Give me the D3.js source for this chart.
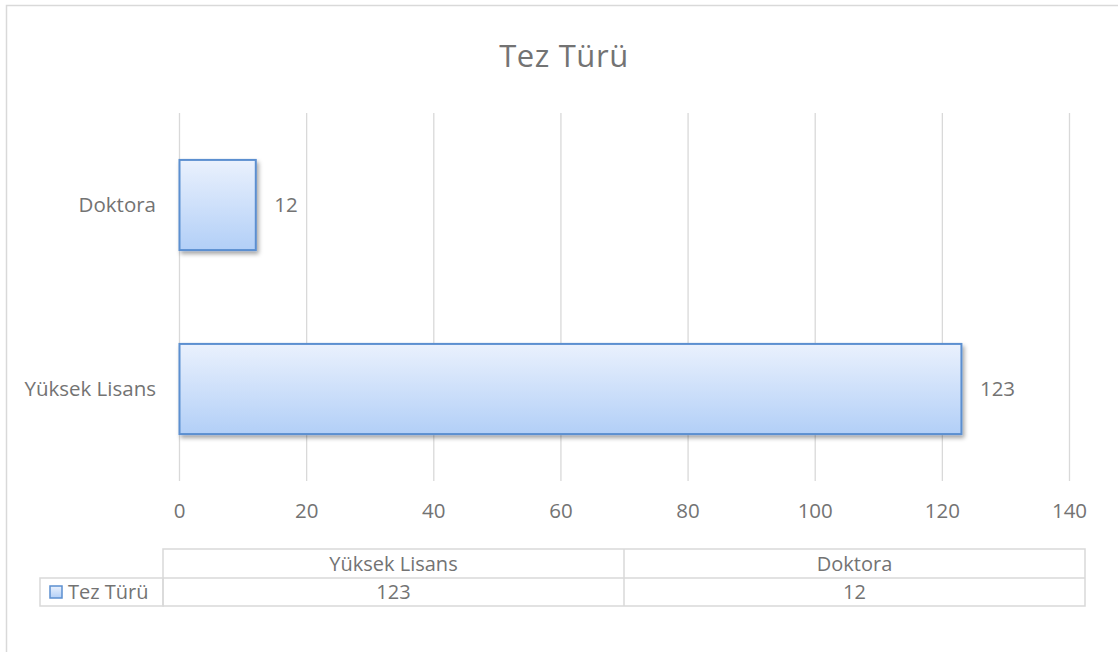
<!DOCTYPE html>
<html><head><meta charset="utf-8">
<script src="https://cdn.jsdelivr.net/npm/d3@7"></script>
<style>body{margin:0;background:#fff}svg{display:block;font-family:"Open Sans",sans-serif}</style>
</head><body>
<svg id="c" width="1118" height="652"></svg>
<script>
const title = "Tez Türü";
const seriesName = "Tez Türü";
const categories = ["Yüksek Lisans", "Doktora"];
const values = [123, 12];
const xTicks = [0, 20, 40, 60, 80, 100, 120, 140];

const svg = d3.select("#c");
const grey = "#737373";
const fs = 20.5;
const defs = svg.append("defs");
const grad = defs.append("linearGradient").attr("id","g").attr("x1",0).attr("y1",0).attr("x2",0).attr("y2",1);
grad.append("stop").attr("offset","0%").attr("stop-color","#eaf1fd");
grad.append("stop").attr("offset","100%").attr("stop-color","#b2cff7");
const f = defs.append("filter").attr("id","sh").attr("x","-10%").attr("y","-10%").attr("width","130%").attr("height","140%");
f.append("feDropShadow").attr("dx",2).attr("dy",3).attr("stdDeviation",2).attr("flood-color","#000").attr("flood-opacity",0.35);
const lg = defs.append("linearGradient").attr("id","lg").attr("x1",0).attr("y1",0).attr("x2",0).attr("y2",1);
lg.append("stop").attr("offset","0%").attr("stop-color","#eaf1fd");
lg.append("stop").attr("offset","100%").attr("stop-color","#b2cff7");

// chart border
svg.append("rect").attr("x",6.5).attr("y",5.5).attr("width",1130).attr("height",660)
  .attr("fill","none").attr("stroke","#d9d9d9").attr("stroke-width",1.5);

svg.append("text").attr("x",564).attr("y",67).attr("text-anchor","middle")
  .attr("font-size",31).attr("letter-spacing",0.6).attr("fill",grey).text(title);

const x = d3.scaleLinear().domain([0,140]).range([179,1069]);
const y = d3.scaleBand().domain(["Doktora","Yüksek Lisans"]).range([113,481]).paddingInner(0.51).paddingOuter(0.255);

// gridlines
svg.append("g").selectAll("line").data(xTicks).join("line")
  .attr("x1",d=>x(d)+0.5).attr("x2",d=>x(d)+0.5).attr("y1",113).attr("y2",481)
  .attr("stroke","#d9d9d9").attr("stroke-width",1.3);

// tick labels
const ax = svg.append("g").attr("transform","translate(0,481)")
  .call(d3.axisBottom(x).tickValues(xTicks).tickSize(0).tickPadding(0));
ax.select(".domain").remove();
ax.selectAll("text").attr("font-size",fs).attr("fill",grey).attr("font-family","'Open Sans',sans-serif").attr("y",30).attr("dy","0.35em");

// category labels
const ay = svg.append("g").attr("transform","translate(179,0)")
  .call(d3.axisLeft(y).tickSize(0).tickPadding(23));
ay.select(".domain").remove();
ay.selectAll("text").attr("font-size",fs).attr("fill",grey).attr("font-family","'Open Sans',sans-serif");

const data = categories.map((c,i)=>({c,v:values[i]}));
svg.append("g").selectAll("rect").data(data).join("rect")
  .attr("x",x(0)+0.5).attr("y",d=>y(d.c)).attr("width",d=>x(d.v)-x(0)).attr("height",y.bandwidth())
  .attr("fill","url(#g)").attr("stroke","#5b8fd0").attr("stroke-width",2).attr("filter","url(#sh)");

svg.append("g").selectAll("text").data(data).join("text")
  .attr("x",d=>x(d.v)+19).attr("y",d=>y(d.c)+y.bandwidth()/2).attr("dy","0.35em")
  .attr("font-size",fs).attr("fill",grey).text(d=>d.v);

// data table
const tg = svg.append("g");
const colX = [163, 624, 1085];
const r0 = 549, r1 = 578, r2 = 606;
const ls = "#d9d9d9";
tg.append("rect").attr("x",colX[0]).attr("y",r0).attr("width",colX[2]-colX[0]).attr("height",r2-r0).attr("fill","none").attr("stroke",ls).attr("stroke-width",1.5);
tg.append("rect").attr("x",40).attr("y",r1).attr("width",colX[0]-40).attr("height",r2-r1).attr("fill","none").attr("stroke",ls).attr("stroke-width",1.5);
tg.append("line").attr("x1",colX[0]).attr("x2",colX[2]).attr("y1",r1).attr("y2",r1).attr("stroke",ls).attr("stroke-width",1.5);
tg.append("line").attr("x1",colX[1]).attr("x2",colX[1]).attr("y1",r0).attr("y2",r2).attr("stroke",ls).attr("stroke-width",1.5);
categories.forEach((c,i)=>{
  const cx = (colX[i]+colX[i+1])/2;
  tg.append("text").attr("x",cx).attr("y",(r0+r1)/2).attr("dy","0.35em").attr("text-anchor","middle").attr("font-size",fs-0.5).attr("fill",grey).text(c);
  tg.append("text").attr("x",cx).attr("y",(r1+r2)/2).attr("dy","0.35em").attr("text-anchor","middle").attr("font-size",fs-0.5).attr("fill",grey).text(values[i]);
});
tg.append("rect").attr("x",50).attr("y",586).attr("width",12).attr("height",12).attr("fill","url(#lg)").attr("stroke","#5b8fd0").attr("stroke-width",1.5);
tg.append("text").attr("x",68).attr("y",(r1+r2)/2).attr("dy","0.35em").attr("font-size",fs-0.5).attr("fill",grey).text(seriesName);
</script>
</body></html>
